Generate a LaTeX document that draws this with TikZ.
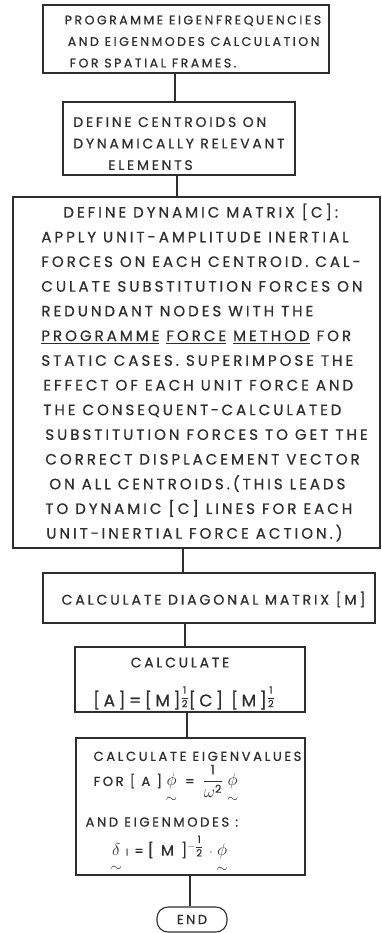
\documentclass[tikz,border=0pt]{standalone}
\usepackage{amsmath}
\usepackage{fontspec}
\newfontfamily\hand[LetterSpace=20,FakeBold=0.7]{Poppins}
\definecolor{ink}{gray}{0.18}
\newcommand{\ut}[1]{\underset{\raisebox{-3pt}{$\scriptstyle\sim$}}{#1}}
\newcommand{\utd}[1]{\underset{\raisebox{-5pt}{$\scriptstyle\sim$}}{#1}}
\newcommand{\up}[1]{\rule{0pt}{#1}}
\newcommand{\gk}[1]{{\fontsize{19}{25}\selectfont$#1$}}
\newcommand{\hfr}{\raisebox{6pt}{\fontsize{10}{10}\selectfont$\dfrac{\text{1}}{\text{2}}$}}
\newcommand{\mhfr}{\raisebox{6pt}{\fontsize{10}{10}\selectfont$-\dfrac{\text{1}}{\text{2}}$}}
\begin{document}
\begin{tikzpicture}[x=1pt,y=-1pt,
  box/.style={draw=ink, line width=1.1pt, rectangle, inner sep=0pt, align=left, text=ink},
  conn/.style={draw=ink, line width=1.1pt}]
\useasboundingbox (0,0) rectangle (382,933);
\node[box, minimum width=286pt, minimum height=68pt, font={\hand\fontsize{12.5}{21.5}\selectfont}] (b1) at (186,39)
  {\up{14pt}\hspace*{14pt}PROGRAMME EIGENFREQUENCIES\\
   \hspace*{17pt}AND EIGENMODES CALCULATION\\
   \hspace*{19pt}FOR SPATIAL FRAMES.};
\node[box, minimum width=232pt, minimum height=73pt, font={\hand\fontsize{13.9}{21.5}\selectfont}] (b2) at (179,138.5)
  {\up{20pt}DEFINE CENTROIDS ON\\
   DYNAMICALLY RELEVANT\\
   \hspace*{35pt}ELEMENTS};
\node[box, minimum width=367pt, minimum height=351pt, font={\hand\fontsize{15}{24.7}\selectfont}] (b3) at (196.5,372.5)
  {\hspace*{38pt}DEFINE DYNAMIC MATRIX [C]:\\
   \hspace*{16pt}APPLY UNIT-AMPLITUDE INERTIAL\\
   \hspace*{16pt}FORCES ON EACH CENTROID. CAL-\\
   \hspace*{16pt}CULATE SUBSTITUTION FORCES ON\\
   \hspace*{16pt}REDUNDANT NODES WITH THE\\
   \hspace*{16pt}\underline{PROGRAMME} \underline{FORCE} \underline{METHOD} FOR\\
   \hspace*{16pt}STATIC CASES. SUPERIMPOSE THE\\
   \hspace*{18pt}EFFECT OF EACH UNIT FORCE AND\\
   \hspace*{18pt}THE CONSEQUENT\,-\,CALCULATED\\
   \hspace*{20pt}SUBSTITUTION FORCES TO GET THE\\
   \hspace*{20pt}CORRECT DISPLACEMENT VECTOR\\
   \hspace*{24pt}ON ALL CENTROIDS.(THIS LEADS\\
   \hspace*{20pt}TO DYNAMIC [C] LINES FOR EACH\\
   \hspace*{21pt}UNIT-\,INERTIAL FORCE ACTION.)};
\node[box, minimum width=332pt, minimum height=50pt, font={\hand\fontsize{14.1}{21}\selectfont}] (b4) at (209,598)
  {\up{16pt}\hspace*{9pt}CALCULATE DIAGONAL MATRIX [M]};
\node[box, minimum width=230pt, minimum height=65pt, align=center, font={\hand\fontsize{13.9}{39}\selectfont}] (b5) at (190,679.5)
  {\up{18pt}CALCULATE\hspace*{20pt}\\
   {\fontsize{17}{39}\selectfont [A]=[M]\hfr[C] [M]\hfr\hspace*{12pt}}};
\node[box, minimum width=229pt, minimum height=137pt, font={\hand\fontsize{13.1}{25}\selectfont}] (b6) at (190.5,806.5)
  {\up{22pt}\hspace*{14pt}CALCULATE EIGENVALUES\\
   \hspace*{14pt}FOR [ A ]\hspace{4pt}\gk{\ut{\phi}}\hspace{8pt}=\hspace{8pt}\gk{\dfrac{\text{\fontsize{13}{13}\selectfont 1}}{\omega^{\text{\fontsize{11}{11}\selectfont 2}}}}\hspace{4pt}\gk{\ut{\phi}}\\[12pt]
   \hspace*{6pt}AND EIGENMODES :\\[4pt]
   \hspace*{31pt}\gk{\utd{\delta}}\hspace{4pt}{\fontsize{10}{10}\selectfont I}\hspace{6pt}=\hspace{4pt}{\fontsize{15}{25}\selectfont[ M ]}\mhfr\hspace{6pt}$\cdot$\hspace{4pt}\gk{\ut{\phi}}};
\node[draw=ink, line width=1.1pt, rounded corners=11pt, minimum width=70pt, minimum height=25pt, inner sep=0pt, text=ink, font={\hand\fontsize{13}{15}\selectfont}] (end) at (192,919.5) {END};
\draw[conn] ([xshift=-11pt]b1.south) -- ([xshift=-4pt]b2.north);
\draw[conn] ([xshift=-2pt]b2.south) -- ([xshift=-19.5pt]b3.north);
\draw[conn] ([xshift=-13.5pt]b3.south) -- ([xshift=-26pt]b4.north);
\draw[conn] ([xshift=-24pt]b4.south) -- ([xshift=-5pt]b5.north);
\draw[conn] ([xshift=-3pt]b5.south) -- ([xshift=-3.5pt]b6.north);
\draw[conn] ([xshift=-0.5pt]b6.south) -- ([xshift=-2pt]end.north);
\end{tikzpicture}
\end{document}
